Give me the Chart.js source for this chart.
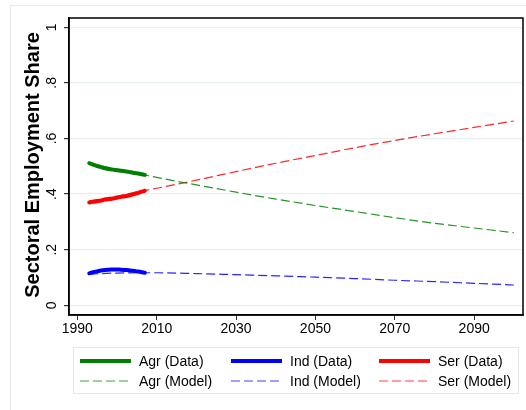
<!DOCTYPE html>
<html>
<head>
<meta charset="utf-8">
<script src="https://cdn.jsdelivr.net/npm/chart.js@4.4.0/dist/chart.umd.min.js"></script>
<style>
    body { margin: 0; background: #fff; }
    #wrap { position: relative; width: 526px; height: 410px; overflow: hidden; background: #fff; }
    #outer { position: absolute; left: 10px; top: 5px; width: 560px; height: 440px; border: 1px solid #e4ecec; }
    #c { position: absolute; left: 0; top: 0; }
    #legend { position: absolute; left: 73px; top: 347px; width: 444px; height: 45px; border: 1px solid #e2eaea;
              font-family: "Liberation Sans", Arial, sans-serif; font-size: 14px; color: #000; }
    .item { position: absolute; height: 20px; line-height: 20px; white-space: nowrap; }
    .item svg { position: absolute; left: 0; top: 0; }
    .item span { position: absolute; left: 59px; top: 0; }
</style>
</head>
<body>
<div id="wrap">
    <div id="outer"></div>
    <canvas id="c" width="526" height="410"></canvas>
    <div id="legend"></div>
</div>
<script>
// observed years
const dataYears = [1993, 1994, 1995, 1996, 1997, 1998, 1999, 2000, 2001, 2002, 2003, 2004, 2005, 2006, 2007];
const agrData = [0.511, 0.506, 0.501, 0.497, 0.493, 0.490, 0.488, 0.486, 0.484, 0.482, 0.480, 0.477, 0.475, 0.472, 0.469];
const indData = [0.115, 0.119, 0.122, 0.125, 0.127, 0.128, 0.129, 0.129, 0.128, 0.127, 0.126, 0.124, 0.122, 0.120, 0.117];
const serData = [0.370, 0.372, 0.374, 0.377, 0.380, 0.382, 0.384, 0.387, 0.390, 0.392, 0.395, 0.399, 0.403, 0.408, 0.412];

// model path
const modelYears = [1993, 2000, 2007, 2010, 2020, 2030, 2040, 2050, 2060, 2070, 2080, 2090, 2100];
const agrModel = [0.510, 0.490, 0.469, 0.460, 0.433, 0.407, 0.382, 0.359, 0.337, 0.315, 0.295, 0.278, 0.261];
const indModel = [0.112, 0.116, 0.117, 0.117, 0.114, 0.110, 0.106, 0.101, 0.096, 0.090, 0.085, 0.079, 0.073];
const serModel = [0.376, 0.393, 0.413, 0.421, 0.450, 0.481, 0.511, 0.539, 0.567, 0.593, 0.617, 0.640, 0.663];

const xTicks = [1990, 2010, 2030, 2050, 2070, 2090];
const yTicks = [0, 0.2, 0.4, 0.6, 0.8, 1];
const yTickLabels = ["0", ".2", ".4", ".6", ".8", "1"];

const FONT = '"Liberation Sans", Arial, sans-serif';

function pts(xs, ys) {
    return xs.map((x, i) => ({ x: x, y: ys[i] }));
}

const series = [
    { label: "Agr (Data)", xs: dataYears, ys: agrData, color: "#008000", dashed: false },
    { label: "Ind (Data)", xs: dataYears, ys: indData, color: "#0000ff", dashed: false },
    { label: "Ser (Data)", xs: dataYears, ys: serData, color: "#ff0000", dashed: false },
    { label: "Agr (Model)", xs: modelYears, ys: agrModel, color: "rgba(0,128,0,0.85)", legendColor: "rgba(0,128,0,0.5)", dashed: true },
    { label: "Ind (Model)", xs: modelYears, ys: indModel, color: "rgba(0,0,255,0.85)", legendColor: "rgba(0,0,255,0.5)", dashed: true },
    { label: "Ser (Model)", xs: modelYears, ys: serModel, color: "rgba(255,0,0,0.85)", legendColor: "rgba(255,0,0,0.5)", dashed: true },
];

const datasets = series.map(s => ({
    label: s.label,
    data: pts(s.xs, s.ys),
    borderColor: s.color,
    borderWidth: s.dashed ? 1.2 : 4,
    borderDash: s.dashed ? [9, 4] : [],
    borderCapStyle: s.dashed ? 'butt' : 'round',
    pointRadius: 0,
    fill: false,
    cubicInterpolationMode: 'monotone',
    order: s.dashed ? 1 : 0,
}));

// frame, rotated y tick labels and y title
const framePlugin = {
    id: 'frame',
    afterDraw(chart) {
        const { ctx, chartArea: a, scales: { y } } = chart;
        ctx.save();
        ctx.strokeStyle = '#000';
        ctx.lineWidth = 1.5;
        ctx.strokeRect(a.left, a.top, a.right - a.left, a.bottom - a.top);

        ctx.fillStyle = '#000';
        ctx.font = '14px ' + FONT;
        ctx.textAlign = 'center';
        ctx.textBaseline = 'middle';
        yTicks.forEach((v, i) => {
            ctx.save();
            ctx.translate(52, y.getPixelForValue(v));
            ctx.rotate(-Math.PI / 2);
            ctx.fillText(yTickLabels[i], 0, 0);
            ctx.restore();
        });

        ctx.font = 'bold 20px ' + FONT;
        ctx.translate(33, 165);
        ctx.rotate(-Math.PI / 2);
        ctx.fillText('Sectoral Employment Share', 0, 0);
        ctx.restore();
    }
};

new Chart(document.getElementById('c'), {
    type: 'line',
    data: { datasets: datasets },
    options: {
        responsive: false,
        animation: false,
        layout: { padding: { top: 18, right: 3, left: 0, bottom: 0 } },
        plugins: { legend: { display: false }, tooltip: { enabled: false } },
        scales: {
            x: {
                type: 'linear',
                min: 1987.9,
                max: 2102.3,
                afterBuildTicks: s => { s.ticks = xTicks.map(v => ({ value: v })); },
                afterFit: s => { s.height = 95; },
                ticks: {
                    color: '#000',
                    font: { size: 14, family: FONT },
                    padding: 1,
                    maxRotation: 0,
                    callback: v => String(v),
                },
                grid: { drawOnChartArea: false, tickLength: 5, tickColor: '#333' },
                border: { color: '#000', width: 1.5 },
            },
            y: {
                min: -0.035,
                max: 1.0335,
                afterBuildTicks: s => { s.ticks = yTicks.map(v => ({ value: v })); },
                afterFit: s => { s.width = 69; },
                ticks: { display: false },
                grid: { color: '#e8eff1', lineWidth: 1.2, tickLength: 5, tickColor: '#333' },
                border: { color: '#000', width: 1.5 },
            },
        },
    },
    plugins: [framePlugin],
});

// legend: 3 columns x 2 rows
const legendCols = [6, 157, 305];
const legendRows = [3, 23];
const legend = document.getElementById('legend');
series.forEach((s, i) => {
    const col = i % 3, row = Math.floor(i / 3);
    const div = document.createElement('div');
    div.className = 'item';
    div.style.left = legendCols[col] + 'px';
    div.style.top = legendRows[row] + 'px';
    const c = s.legendColor || s.color;
    const line = s.dashed
        ? '<line x1="0" y1="10" x2="51" y2="10" stroke="' + c + '" stroke-width="1.5" stroke-dasharray="9,4"/>'
        : '<line x1="0" y1="10" x2="51" y2="10" stroke="' + c + '" stroke-width="4"/>';
    div.innerHTML = '<svg width="52" height="20">' + line + '</svg><span>' + s.label + '</span>';
    legend.appendChild(div);
});
</script>
</body>
</html>
